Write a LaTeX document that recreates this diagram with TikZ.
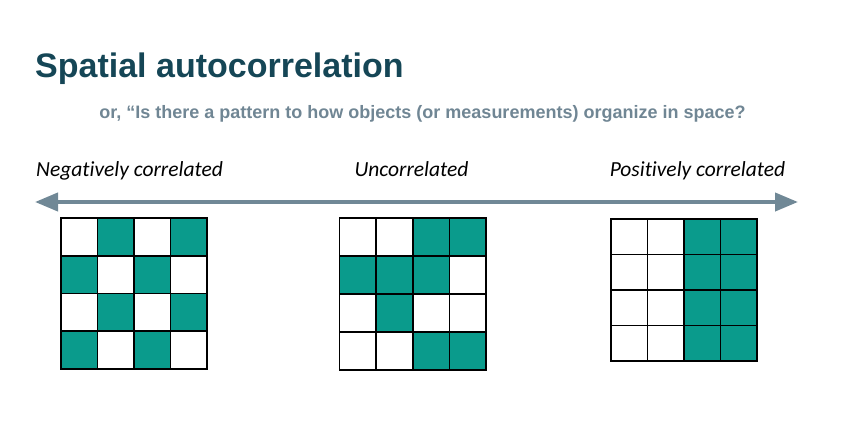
\documentclass[tikz,border=0pt]{standalone}
\usepackage{fontspec}
\usepackage{xcolor}
\usepackage{tikz}
\usetikzlibrary{arrows.meta,positioning}
\newfontfamily\headfont{Liberation Sans}
\newfontfamily\sidefont{Carlito}[Ligatures={NoCommon}]
\definecolor{titleblue}{RGB}{21,70,86}
\definecolor{subgray}{RGB}{112,134,148}
\definecolor{axisgray}{RGB}{112,136,150}
\definecolor{cellteal}{RGB}{10,155,140}

\begin{document}
\begin{tikzpicture}[
    x=1pt, y=-1pt,
    heading/.style={inner sep=0pt, anchor=base west, text=titleblue, font=\headfont\bfseries\fontsize{34}{40}\selectfont},
    subheading/.style={inner sep=0pt, anchor=base, text=subgray, font=\headfont\bfseries\fontsize{18}{22}\selectfont},
    endlabel/.style={inner sep=0pt, anchor=base, font=\sidefont\itshape\fontsize{21.5}{26}\selectfont},
    axisline/.style={draw=axisgray, line width=4pt, {Triangle[length=23pt,width=18pt]}-{Triangle[length=23pt,width=18pt]}},
    cellfill/.style={fill=cellteal},
    cellline/.style={draw=black, line width=1.6pt, line cap=rect}
]
    \useasboundingbox (0,0) rectangle (862,444);

    % title lines
    \node[heading] (title) at (35,77.3) {Spatial autocorrelation};
    \node[subheading] (question) at (422.5,118) {or, “Is there a pattern to how objects (or measurements) organize in space?};

    % ends of the scale
    \node[endlabel] (negative) at (129.5,176) {Negatively correlated};
    \node[endlabel] (uncorr) at (411.5,176) {Uncorrelated};
    \node[endlabel] (positive) at (697.5,176) {Positively correlated};

    \coordinate (leftend) at (35,202);
    \coordinate (rightend) at (798,202);
    \draw[axisline] (leftend) -- (rightend);

    % negatively correlated: checkerboard
    \begin{scope}[shift={(61,218)}]
        \foreach \i/\j in {1/0,3/0,0/1,2/1,1/2,3/2,0/3,2/3}
            \fill[cellfill] (\i*36.5,\j*37.75) rectangle ++(36.5,37.75);
        \foreach \k in {0,...,4} {
            \draw[cellline] (\k*36.5,0) -- (\k*36.5,151);
            \draw[cellline] (0,\k*37.75) -- (146,\k*37.75);
        }
    \end{scope}

    % uncorrelated: random
    \begin{scope}[shift={(339.5,218)}]
        \foreach \i/\j in {2/0,3/0,0/1,1/1,2/1,1/2,2/3,3/3}
            \fill[cellfill] (\i*36.6,\j*38) rectangle ++(36.6,38);
        \foreach \k in {0,...,4} {
            \draw[cellline] (\k*36.6,0) -- (\k*36.6,152);
            \draw[cellline] (0,\k*38) -- (146.4,\k*38);
        }
    \end{scope}

    % positively correlated: clustered
    \begin{scope}[shift={(611,219)}]
        \foreach \i/\j in {2/0,3/0,2/1,3/1,2/2,3/2,2/3,3/3}
            \fill[cellfill] (\i*36.5,\j*35.5) rectangle ++(36.5,35.5);
        \foreach \k in {0,...,4} {
            \draw[cellline] (\k*36.5,0) -- (\k*36.5,142);
            \draw[cellline] (0,\k*35.5) -- (146,\k*35.5);
        }
    \end{scope}
\end{tikzpicture}
\end{document}
